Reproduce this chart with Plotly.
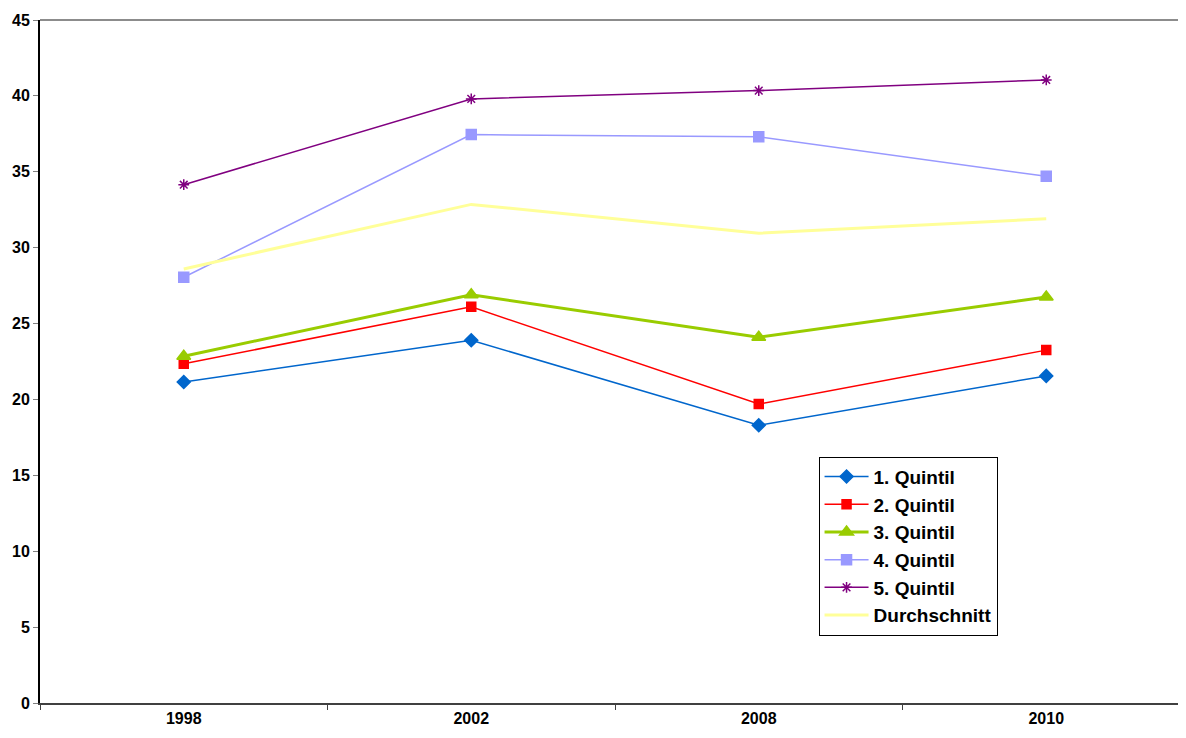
import plotly.graph_objects as go

years = ["1998", "2002", "2008", "2010"]
q1 = [21.15, 23.9, 18.3, 21.55]
q2 = [22.35, 26.1, 19.7, 23.25]
q3 = [22.85, 26.9, 24.1, 26.75]
q4 = [28.05, 37.45, 37.3, 34.7]
q5 = [34.15, 39.8, 40.35, 41.05]
avg = [28.6, 32.85, 30.95, 31.9]

series = [
    ("1. Quintil", q1, "#0066CC", 1.5, "diamond", 10),
    ("2. Quintil", q2, "#FF0000", 1.5, "square", 9),
    ("3. Quintil", q3, "#99CC00", 3, "triangle-up", 12),
    ("4. Quintil", q4, "#9999FF", 1.5, "square", 10),
    ("5. Quintil", q5, "#800080", 1.5, "asterisk-open", 9),
]

fig = go.Figure()
for name, vals, col, w, sym, sz in series:
    fig.add_trace(go.Scatter(
        x=years, y=vals, name=name, mode="lines+markers", legendgroup=name,
        line=dict(color=col, width=w),
        marker=dict(symbol=sym, size=sz, color=col, line=dict(color=col, width=1.5)),
    ))
fig.add_trace(go.Scatter(
    x=years, y=avg, name="Durchschnitt", mode="lines", legendgroup="avg",
    line=dict(color="#FFFF99", width=3),
))

font = "Liberation Sans, Arial, sans-serif"
fig.update_layout(
    width=1186, height=738,
    margin=dict(l=30, r=4, t=10, b=43),
    plot_bgcolor="white", paper_bgcolor="white",
    font=dict(family=font, color="black"),
    showlegend=True,
    legend=dict(
        x=0.677, y=0.3606, xanchor="left", yanchor="top",
        bgcolor="white", bordercolor="black", borderwidth=1,
        font=dict(size=19, family=font, color="black", weight="bold"),
        tracegroupgap=0, itemwidth=44,
    ),
    xaxis=dict(
        type="category", range=[-0.5, 3.5],
        showline=True, linecolor="#404040", linewidth=2,
        ticks="outside", tickson="boundaries", ticklen=5, tickcolor="#404040",
        showgrid=False, zeroline=False,
        tickfont=dict(size=16, family=font, color="black", weight="bold"),
    ),
    yaxis=dict(
        range=[0, 45], dtick=5, tick0=0,
        showline=True, linecolor="black", linewidth=2,
        ticks="outside", ticklen=5, tickcolor="#808080",
        showgrid=False, zeroline=False,
        tickfont=dict(size=16, family=font, color="black", weight="bold"),
    ),
    shapes=[dict(type="line", xref="paper", yref="paper", x0=0, x1=1, y0=1, y1=1,
                 line=dict(color="#8C8C8C", width=2))],
)

fig.write_html("out.html")
